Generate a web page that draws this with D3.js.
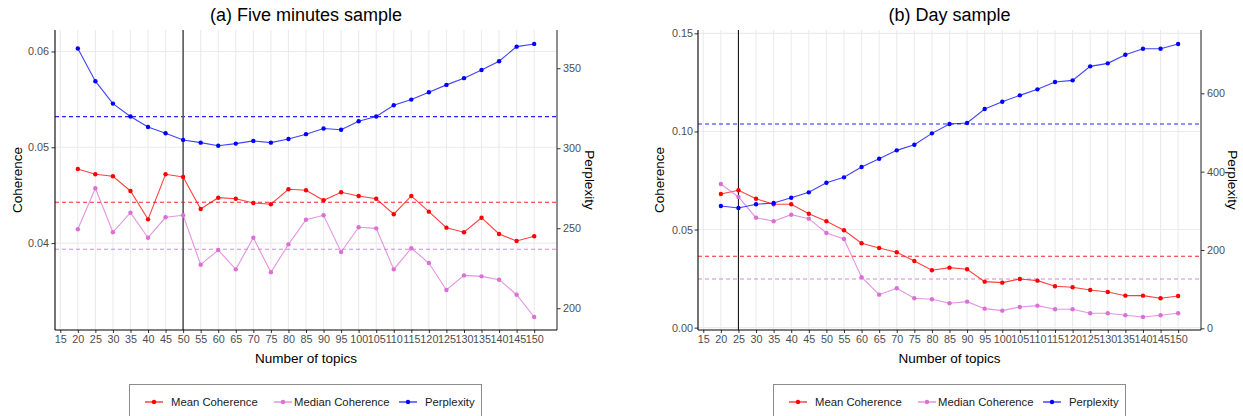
<!DOCTYPE html>
<html>
<head>
<meta charset="utf-8">
<script src="https://cdn.jsdelivr.net/npm/d3@7"></script>
<style>
  html, body { margin: 0; padding: 0; background: #fff; }
  svg { display: block; font-family: "Liberation Sans", Arial, sans-serif; }
</style>
</head>
<body>
<svg id="chart" width="1243" height="416"></svg>
<script>
// Number of topics evaluated for each LDA run
const topics = [20,25,30,35,40,45,50,55,60,65,70,75,80,85,90,95,100,105,110,115,120,125,130,135,140,145,150];
const xTicks = [15,20,25,30,35,40,45,50,55,60,65,70,75,80,85,90,95,100,105,110,115,120,125,130,135,140,145,150];

// (a) Five minutes sample
const fiveMeanCoherence = [0.04773,0.04718,0.04697,0.04544,0.04248,0.04718,0.04690,0.04356,0.04474,0.04463,0.04419,0.04405,0.04562,0.04551,0.04447,0.04530,0.04492,0.04463,0.04301,0.04492,0.04328,0.04161,0.04113,0.04265,0.04095,0.04022,0.04071];
const fiveMedianCoherence = [0.04144,0.04572,0.04113,0.04317,0.04056,0.04269,0.04290,0.03775,0.03928,0.03726,0.04056,0.03695,0.03987,0.04244,0.04290,0.03907,0.04165,0.04154,0.03726,0.03946,0.03792,0.03510,0.03663,0.03653,0.03618,0.03461,0.03229];
const fivePerplexity = [362.3,341.9,327.9,319.8,313.3,309.4,305.2,303.5,301.6,302.9,304.6,303.5,305.8,308.8,312.3,311.6,316.9,319.8,326.9,330.4,335.0,339.6,343.8,348.9,354.4,363.5,365.2];
const fiveAverages = [0.04426, 0.03935, 319.75];   // mean coherence, median coherence, perplexity
const fiveChosenTopics = 50;
const fiveCoherenceTicks = [0.04, 0.05, 0.06];
const fivePerplexityTicks = [200, 250, 300, 350];

// (b) Day sample
const dayMeanCoherence = [0.06812,0.07000,0.06573,0.06287,0.06287,0.05808,0.05421,0.04963,0.04300,0.04061,0.03842,0.03398,0.02925,0.03057,0.02975,0.02344,0.02293,0.02481,0.02395,0.02109,0.02058,0.01921,0.01819,0.01630,0.01630,0.01498,0.01615];
const dayMedianCoherence = [0.07322,0.06659,0.05605,0.05421,0.05757,0.05554,0.04825,0.04519,0.02568,0.01681,0.02007,0.01498,0.01447,0.01243,0.01325,0.00968,0.00866,0.01055,0.01121,0.00937,0.00937,0.00734,0.00734,0.00632,0.00545,0.00632,0.00734];
const dayPerplexity = [312.2,307.1,316.6,319.9,333.4,347.2,371.7,385.5,411.8,433.0,454.4,468.7,497.8,521.6,524.1,559.9,578.5,594.8,610.2,628.8,633.1,668.9,676.5,698.5,713.8,713.8,725.8];
const dayAverages = [0.03638, 0.02481, 521.6];
const dayChosenTopics = 25;
const dayCoherenceTicks = [0.00, 0.05, 0.10, 0.15];
const dayPerplexityTicks = [0, 200, 400, 600];

const seriesNames = ["Mean Coherence", "Median Coherence", "Perplexity"];
const seriesColors = ["#FF0000", "#DA70D6", "#0000FF"];

const svg = d3.select("#chart");

function drawPanel(opt) {
  const { left, right, top, bottom } = opt.box;
  const g = svg.append("g");

  const x = d3.scaleLinear().domain([13.5, 156.5]).range([left, right]);
  const yC = d3.scaleLinear().domain(opt.cohDomain).range([bottom, top]);
  const yP = d3.scaleLinear().domain(opt.perpDomain).range([bottom, top]);

  // grid
  const grid = g.append("g");
  grid.selectAll("line.v").data(xTicks).join("line")
    .attr("x1", d => x(d)).attr("x2", d => x(d))
    .attr("y1", top).attr("y2", bottom)
    .attr("stroke", "#EBEBEB").attr("stroke-width", 1.1);
  grid.selectAll("line.h").data(opt.cohTicks).join("line")
    .attr("x1", left).attr("x2", right)
    .attr("y1", d => yC(d)).attr("y2", d => yC(d))
    .attr("stroke", "#EBEBEB").attr("stroke-width", 1.1);

  // average reference lines
  const refScales = [yC, yC, yP];
  g.append("g").selectAll("line").data(opt.averages).join("line")
    .attr("x1", left).attr("x2", right)
    .attr("y1", (d, i) => refScales[i](d)).attr("y2", (d, i) => refScales[i](d))
    .attr("stroke", (d, i) => seriesColors[i])
    .attr("stroke-width", 1.1)
    .attr("stroke-dasharray", "4,3")
    .attr("opacity", 0.85);

  // chosen number of topics
  g.append("line")
    .attr("x1", x(opt.chosen)).attr("x2", x(opt.chosen))
    .attr("y1", top).attr("y2", bottom)
    .attr("stroke", opt.vColor).attr("stroke-width", opt.vWidth);

  // series
  const series = [
    { values: opt.mean, scale: yC, color: seriesColors[0] },
    { values: opt.median, scale: yC, color: seriesColors[1] },
    { values: opt.perp, scale: yP, color: seriesColors[2] }
  ];
  series.forEach(s => {
    const pts = topics.map((t, i) => [t, s.values[i]]);
    g.append("path")
      .datum(pts)
      .attr("fill", "none")
      .attr("stroke", s.color)
      .attr("stroke-width", 1.1)
      .attr("opacity", 0.75)
      .attr("d", d3.line().x(d => x(d[0])).y(d => s.scale(d[1])));
    g.append("g").selectAll("circle").data(pts).join("circle")
      .attr("cx", d => x(d[0])).attr("cy", d => s.scale(d[1]))
      .attr("r", 2.2).attr("fill", s.color);
  });

  // axes
  const fmtC = d3.format(".2f");
  const axL = g.append("g").attr("transform", `translate(${left},0)`)
    .call(d3.axisLeft(yC).tickValues(opt.cohTicks).tickFormat(fmtC).tickSize(3.5).tickPadding(opt.leftPad));
  const axR = g.append("g").attr("transform", `translate(${right},0)`)
    .call(d3.axisRight(yP).tickValues(opt.perpTicks).tickFormat(d3.format("d")).tickSize(3.5).tickPadding(2.5));
  const axB = g.append("g").attr("transform", `translate(0,${bottom})`)
    .call(d3.axisBottom(x).tickValues(xTicks).tickFormat(d3.format("d")).tickSize(3).tickPadding(2.5));

  [axL, axR, axB].forEach(a => {
    a.select(".domain").remove();
    a.selectAll(".tick line").attr("stroke", "#333333");
    a.selectAll(".tick text")
      .attr("fill", "#4D4D4D")
      .style("font-size", "10.8px")
      .style("font-family", "'Liberation Sans', Arial, sans-serif");
  });
  // axis lines
  g.append("line").attr("x1", left).attr("x2", left).attr("y1", top).attr("y2", bottom)
    .attr("stroke", "#000").attr("stroke-width", 1.1);
  g.append("line").attr("x1", right).attr("x2", right).attr("y1", top).attr("y2", bottom)
    .attr("stroke", "#333").attr("stroke-width", 1.1);
  g.append("line").attr("x1", left).attr("x2", right).attr("y1", bottom).attr("y2", bottom)
    .attr("stroke", "#000").attr("stroke-width", 1.1);

  // titles
  const cx = (left + right) / 2;
  const cy = (top + bottom) / 2;
  g.append("text").attr("x", cx).attr("y", 21)
    .attr("text-anchor", "middle").attr("fill", "#000")
    .style("font-size", "18px").text(opt.title);
  g.append("text").attr("x", cx).attr("y", 363)
    .attr("text-anchor", "middle").attr("fill", "#000")
    .style("font-size", "13.5px").text("Number of topics");
  g.append("text")
    .attr("transform", `translate(${opt.cohTitleX},${cy}) rotate(-90)`)
    .attr("text-anchor", "middle").attr("dy", "0.35em").attr("fill", "#000")
    .style("font-size", "13.5px").text("Coherence");
  g.append("text")
    .attr("transform", `translate(${opt.perpTitleX},${cy}) rotate(90)`)
    .attr("text-anchor", "middle").attr("dy", "0.35em").attr("fill", "#000")
    .style("font-size", "13.5px").text("Perplexity");

  // legend
  const lg = g.append("g").attr("transform", `translate(${opt.legendX},0)`);
  lg.append("rect").attr("x", 0.5).attr("y", 384.5).attr("width", 352).attr("height", 60)
    .attr("fill", "#fff").attr("stroke", "#8C8C8C").attr("stroke-width", 1);
  const keyX = [16, 145, 270];
  const textX = [42, 165, 296];
  seriesNames.forEach((name, i) => {
    lg.append("line").attr("x1", keyX[i]).attr("x2", keyX[i] + 18)
      .attr("y1", 402).attr("y2", 402)
      .attr("stroke", seriesColors[i]).attr("stroke-width", 1.1);
    lg.append("circle").attr("cx", keyX[i] + 9).attr("cy", 402).attr("r", 2.2)
      .attr("fill", seriesColors[i]);
    lg.append("text").attr("x", textX[i]).attr("y", 402).attr("dy", "0.35em")
      .attr("fill", "#1A1A1A").style("font-size", "11.3px").text(name);
  });
}

drawPanel({
  box: { left: 55, right: 557, top: 30, bottom: 330 },
  cohDomain: [0.03093, 0.06224],
  perpDomain: [186.4, 373.9],
  cohTicks: fiveCoherenceTicks,
  perpTicks: fivePerplexityTicks,
  mean: fiveMeanCoherence,
  median: fiveMedianCoherence,
  perp: fivePerplexity,
  averages: fiveAverages,
  chosen: fiveChosenTopics,
  vColor: "#5A5A5A", vWidth: 1.6,
  leftPad: 2.5,
  title: "(a) Five minutes sample",
  cohTitleX: 17, perpTitleX: 590,
  legendX: 129
});

drawPanel({
  box: { left: 698, right: 1201, top: 30, bottom: 330 },
  cohDomain: [-0.0012, 0.1517],
  perpDomain: [-4.3, 761.7],
  cohTicks: dayCoherenceTicks,
  perpTicks: dayPerplexityTicks,
  mean: dayMeanCoherence,
  median: dayMedianCoherence,
  perp: dayPerplexity,
  averages: dayAverages,
  chosen: dayChosenTopics,
  vColor: "#1A1A1A", vWidth: 1.1,
  leftPad: 1.5,
  title: "(b) Day sample",
  cohTitleX: 659, perpTitleX: 1233,
  legendX: 773
});
</script>
</body>
</html>
